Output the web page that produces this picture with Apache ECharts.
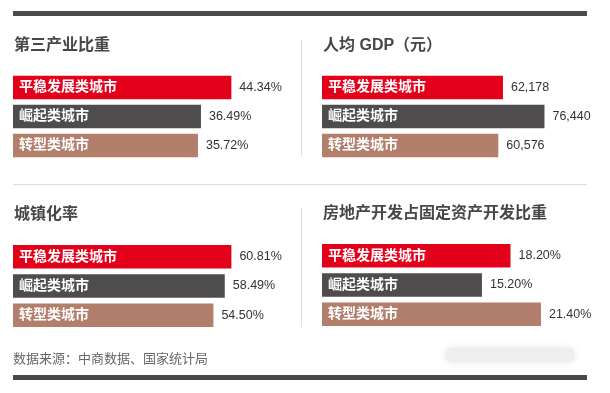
<!DOCTYPE html>
<html><head><meta charset="utf-8">
<script src="https://cdn.jsdelivr.net/npm/echarts@6/dist/echarts.min.js"></script>
<style>html,body{margin:0;padding:0;background:#fff}#c{width:610px;height:393px}</style>
</head><body><div id="c"></div>
<script>
const categories = ['平稳发展类城市', '崛起类城市', '转型类城市'];
const barColors = ['#e3001b', '#4e4c4d', '#b27f6c'];
const titles = ['第三产业比重', '人均 GDP（元）', '城镇化率', '房地产开发占固定资产开发比重'];
const tertiaryShare = [44.34, 36.49, 35.72];
const gdpPerCapita = [62178, 76440, 60576];
const urbanization = [60.81, 58.49, 54.50];
const realEstateShare = [18.20, 15.20, 21.40];
const sourceText = '数据来源：中商数据、国家统计局';

const panels = [
  {data: tertiaryShare, fmt: v => v.toFixed(2) + '%', left: 13, top: 73, h: 87, min: -12, max: 52.5, tx: 14, ty: 46},
  {data: gdpPerCapita, fmt: v => v.toLocaleString('en-US'), left: 322, top: 73, h: 87, min: 0, max: 85900, tx: 323, ty: 46},
  {data: urbanization, fmt: v => v.toFixed(2) + '%', left: 13, top: 242, h: 88, min: -15.8, max: 71.9, tx: 14, ty: 215},
  {data: realEstateShare, fmt: v => v.toFixed(2) + '%', left: 322, top: 241, h: 88, min: -1.6, max: 24.66, tx: 323, ty: 214}
];
const FONT = '"Liberation Sans", "Noto Sans CJK SC", sans-serif';
const chart = echarts.init(document.getElementById('c'), null, {renderer: 'canvas'});
const grid = [], xAxis = [], yAxis = [], series = [];
panels.forEach((p, i) => {
  grid.push({left: p.left, top: p.top, width: 250, height: p.h});
  xAxis.push({type: 'value', gridIndex: i, min: p.min, max: p.max, startValue: p.min, show: false});
  yAxis.push({type: 'category', gridIndex: i, data: categories, inverse: true, z: 10,
    axisLine: {show: false}, axisTick: {show: false}, splitLine: {show: false},
    axisLabel: {inside: true, margin: 6, color: '#fff', fontWeight: 'bold', fontSize: 14, fontFamily: FONT}});
  series.push({type: 'bar', xAxisIndex: i, yAxisIndex: i, barWidth: 23.5, silent: true,
    data: p.data.map((v, j) => ({value: v, itemStyle: {color: barColors[j]}})),
    label: {show: true, position: 'right', distance: 8, color: '#333', fontSize: 12.5, fontFamily: FONT,
      formatter: d => p.fmt(d.value)}});
});
const graphic = [
  {type: 'rect', shape: {x: 13, y: 11, width: 574, height: 5}, style: {fill: '#4a4a4a'}},
  {type: 'rect', shape: {x: 13, y: 375, width: 574, height: 5}, style: {fill: '#4a4a4a'}},
  {type: 'rect', shape: {x: 13, y: 184, width: 574, height: 1}, style: {fill: '#dedede'}},
  {type: 'rect', shape: {x: 301, y: 40, width: 1, height: 117}, style: {fill: '#dedede'}},
  {type: 'rect', shape: {x: 301, y: 208, width: 1, height: 119}, style: {fill: '#dedede'}},
  {type: 'rect', shape: {x: 445, y: 348, width: 130, height: 14, r: 7}, style: {fill: '#eeeeee', shadowBlur: 8, shadowColor: '#e6e6e6'}},
  {type: 'text', style: {text: sourceText, x: 13, y: 359, verticalAlign: 'middle', fill: '#666', font: '13px ' + FONT}}
];
panels.forEach((p, i) => {
  graphic.push({type: 'text', style: {text: titles[i], x: p.tx, y: p.ty, verticalAlign: 'middle', fill: '#474747', font: 'bold 16px ' + FONT}});
});
chart.setOption({animation: false, backgroundColor: '#fff', grid, xAxis, yAxis, series, graphic});
</script></body></html>
